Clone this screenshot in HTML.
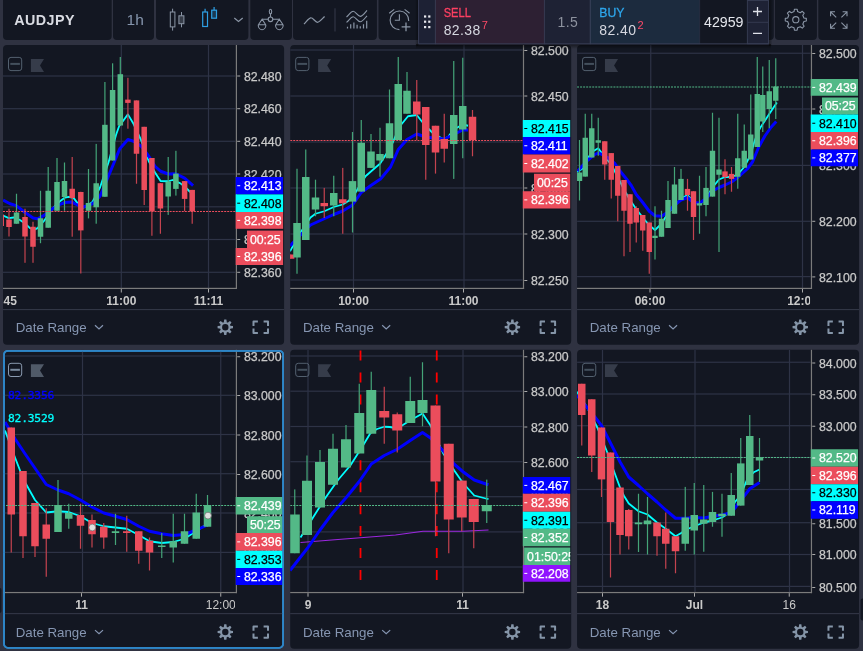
<!DOCTYPE html>
<html><head><meta charset="utf-8"><title>AUDJPY</title>
<style>
html,body{margin:0;padding:0;background:#2f3241;}
body{width:863px;height:651px;overflow:hidden;position:relative;font-family:"Liberation Sans", sans-serif;}
</style></head><body>
<svg width="863" height="651" viewBox="0 0 863 651" font-family='"Liberation Sans", sans-serif' style="position:absolute;left:0;top:0;display:block">
<defs>
<clipPath id="cp1"><rect x="3" y="45" width="233.4" height="243.4"/></clipPath>
<clipPath id="pp1"><rect x="3" y="45" width="232" height="299.8" rx="4"/></clipPath>
<clipPath id="ap1"><rect x="235.4" y="45" width="47.7" height="243.4"/></clipPath>
<clipPath id="cp2"><rect x="290.2" y="45" width="233.3" height="243.4"/></clipPath>
<clipPath id="pp2"><rect x="290.2" y="45" width="231.9" height="299.8" rx="4"/></clipPath>
<clipPath id="ap2"><rect x="522.5" y="45" width="47.7" height="243.4"/></clipPath>
<clipPath id="cp3"><rect x="577.06" y="45" width="234.4" height="243.4"/></clipPath>
<clipPath id="pp3"><rect x="577.06" y="45" width="233" height="299.8" rx="4"/></clipPath>
<clipPath id="ap3"><rect x="810.46" y="45" width="47.6" height="243.4"/></clipPath>
<clipPath id="cp4"><rect x="3" y="349.8" width="233.4" height="242.75"/></clipPath>
<clipPath id="pp4"><rect x="3" y="349.8" width="232" height="299" rx="4"/></clipPath>
<clipPath id="ap4"><rect x="235.4" y="349.8" width="47.7" height="242.75"/></clipPath>
<clipPath id="cp5"><rect x="290.2" y="349.8" width="233.3" height="242.75"/></clipPath>
<clipPath id="pp5"><rect x="290.2" y="349.8" width="231.9" height="299" rx="4"/></clipPath>
<clipPath id="ap5"><rect x="522.5" y="349.8" width="47.7" height="242.75"/></clipPath>
<clipPath id="cp6"><rect x="577.06" y="349.8" width="234.4" height="242.75"/></clipPath>
<clipPath id="pp6"><rect x="577.06" y="349.8" width="233" height="299" rx="4"/></clipPath>
<clipPath id="ap6"><rect x="810.46" y="349.8" width="47.6" height="242.75"/></clipPath>
</defs>
<rect x="3" y="45" width="281.1" height="299.8" rx="4" fill="#131722"/>
<g clip-path="url(#cp1)">
<rect x="3" y="75.4" width="232.4" height="1.2" fill="#2e3346"/>
<rect x="3" y="108.1" width="232.4" height="1.2" fill="#2e3346"/>
<rect x="3" y="140.7" width="232.4" height="1.2" fill="#2e3346"/>
<rect x="3" y="173.4" width="232.4" height="1.2" fill="#2e3346"/>
<rect x="3" y="206.2" width="232.4" height="1.2" fill="#2e3346"/>
<rect x="3" y="238.9" width="232.4" height="1.2" fill="#2e3346"/>
<rect x="3" y="271.7" width="232.4" height="1.2" fill="#2e3346"/>
<rect x="120.7" y="45" width="1.2" height="243.4" fill="#2e3346"/>
<rect x="207.9" y="45" width="1.2" height="243.4" fill="#2e3346"/>
<polyline points="3.1,215.6 8.75,218.1 13.75,217.5 20,220 25,223.5 30,228.1 35,229.4 37.5,228.1 43.75,221.25 52.5,208.75 60,201.25 65,197.5 68.75,196.9 73.75,198.1 77.5,203.1 83.75,207.5 92.5,201.9 100,187.5 103.75,176.25 108.5,162.5 116,135 119.1,126.25 127.9,114.4 133.5,123.75 141,140 148.75,161.25 155,172.5 160.6,181 168.25,181.25 172.5,180 180,183.1 184.6,186.5 189.4,191.25 192.25,193.75" fill="none" stroke="#00ffff" stroke-width="1.8" stroke-linejoin="round"/>
<polyline points="3.1,200 10,203.75 16.25,205.6 25,212.5 33.1,218.1 37.5,218.75 43.75,215.6 52.5,208.75 60,204.4 65,202.5 71.25,201.9 77.5,205 83.75,206.9 92.5,203.75 100,196.25 103.75,187.5 111,170 119.75,148.75 127.9,139.4 133.5,141.25 141.25,146.25 148.75,156.25 155,166.25 160.6,171.25 168.25,174 175.9,173.75 184.6,178.1 193.1,185.6" fill="none" stroke="#0000ff" stroke-width="3" stroke-linejoin="round"/>
<rect x="0.6" y="214.6" width="1.2" height="11.4" fill="#c4434f"/>
<rect x="-1.55" y="214.6" width="5.5" height="11.4" fill="#eb4d5c"/>
<rect x="8.4" y="208.75" width="1.2" height="27.75" fill="#c4434f"/>
<rect x="6.25" y="219.5" width="5.5" height="7.5" fill="#eb4d5c"/>
<rect x="15.9" y="193.75" width="1.2" height="30" fill="#44a478"/>
<rect x="13.75" y="212.5" width="5.5" height="11.25" fill="#53b987"/>
<rect x="24.4" y="208.75" width="1.2" height="54.05" fill="#c4434f"/>
<rect x="22.25" y="217" width="5.5" height="19.5" fill="#eb4d5c"/>
<rect x="32.4" y="221.75" width="1.2" height="41.05" fill="#c4434f"/>
<rect x="30.25" y="226.75" width="5.5" height="20" fill="#eb4d5c"/>
<rect x="39.9" y="190.75" width="1.2" height="52.45" fill="#44a478"/>
<rect x="37.75" y="218.25" width="5.5" height="18.5" fill="#53b987"/>
<rect x="47.6" y="167" width="1.2" height="60.75" fill="#44a478"/>
<rect x="45.45" y="190.75" width="5.5" height="37" fill="#53b987"/>
<rect x="56.4" y="158" width="1.2" height="52.75" fill="#44a478"/>
<rect x="54.25" y="182" width="5.5" height="28.75" fill="#53b987"/>
<rect x="63.9" y="162.5" width="1.2" height="48.25" fill="#44a478"/>
<rect x="61.75" y="181" width="5.5" height="16" fill="#53b987"/>
<rect x="71.6" y="157" width="1.2" height="79.7" fill="#c4434f"/>
<rect x="69.45" y="188.75" width="5.5" height="9.25" fill="#eb4d5c"/>
<rect x="80.2" y="191.75" width="1.2" height="81.75" fill="#c4434f"/>
<rect x="78.05" y="192" width="5.5" height="38.4" fill="#eb4d5c"/>
<rect x="87.9" y="169" width="1.2" height="49.4" fill="#44a478"/>
<rect x="85.75" y="203" width="5.5" height="7.75" fill="#53b987"/>
<rect x="95.6" y="143.9" width="1.2" height="79.8" fill="#44a478"/>
<rect x="93.45" y="183.25" width="5.5" height="24" fill="#53b987"/>
<rect x="104.3" y="82" width="1.2" height="114.75" fill="#44a478"/>
<rect x="102.15" y="124.8" width="5.5" height="71.95" fill="#53b987"/>
<rect x="112" y="63.3" width="1.2" height="97.2" fill="#44a478"/>
<rect x="109.85" y="90" width="5.5" height="70.5" fill="#53b987"/>
<rect x="119.7" y="57" width="1.2" height="68.5" fill="#44a478"/>
<rect x="117.55" y="74.2" width="5.5" height="51.3" fill="#53b987"/>
<rect x="127.3" y="77.8" width="1.2" height="50.9" fill="#c4434f"/>
<rect x="125.15" y="99.6" width="5.5" height="3.3" fill="#eb4d5c"/>
<rect x="135.9" y="100.4" width="1.2" height="83.35" fill="#c4434f"/>
<rect x="133.75" y="100.4" width="5.5" height="53.35" fill="#eb4d5c"/>
<rect x="143.6" y="126.8" width="1.2" height="78.2" fill="#c4434f"/>
<rect x="141.45" y="126.8" width="5.5" height="63.2" fill="#eb4d5c"/>
<rect x="151.3" y="158" width="1.2" height="77.75" fill="#c4434f"/>
<rect x="149.15" y="158" width="5.5" height="53.25" fill="#eb4d5c"/>
<rect x="159.8" y="183.2" width="1.2" height="50.55" fill="#c4434f"/>
<rect x="157.65" y="183.2" width="5.5" height="25.3" fill="#eb4d5c"/>
<rect x="167.6" y="157" width="1.2" height="57.9" fill="#44a478"/>
<rect x="165.45" y="181.6" width="5.5" height="14.9" fill="#53b987"/>
<rect x="175.3" y="150.8" width="1.2" height="44.8" fill="#44a478"/>
<rect x="173.15" y="173.6" width="5.5" height="15.3" fill="#53b987"/>
<rect x="184" y="181" width="1.2" height="30.25" fill="#c4434f"/>
<rect x="181.85" y="181.1" width="5.5" height="17.8" fill="#eb4d5c"/>
<rect x="191.6" y="189.9" width="1.2" height="33.85" fill="#c4434f"/>
<rect x="189.45" y="189.9" width="5.5" height="21.5" fill="#eb4d5c"/>
<line x1="3" y1="211.5" x2="236.4" y2="211.5" stroke="#eb4d5c" stroke-width="1.15" stroke-dasharray="2 1.03"/>
</g>
<rect x="235.8" y="45" width="1.2" height="244" fill="#7b7b7b"/>
<rect x="3" y="287.8" width="234" height="1.2" fill="#7b7b7b"/>
<g clip-path="url(#ap1)">
<rect x="237.2" y="75.5" width="3" height="1" fill="#aaa"/>
<text x="243.9" y="80.6" font-size="12.3" fill="#c9c9c9" stroke="#c9c9c9" stroke-width="0.25">82.480</text>
<rect x="237.2" y="108.2" width="3" height="1" fill="#aaa"/>
<text x="243.9" y="113.3" font-size="12.3" fill="#c9c9c9" stroke="#c9c9c9" stroke-width="0.25">82.460</text>
<rect x="237.2" y="140.8" width="3" height="1" fill="#aaa"/>
<text x="243.9" y="145.9" font-size="12.3" fill="#c9c9c9" stroke="#c9c9c9" stroke-width="0.25">82.440</text>
<rect x="237.2" y="173.5" width="3" height="1" fill="#aaa"/>
<text x="243.9" y="178.6" font-size="12.3" fill="#c9c9c9" stroke="#c9c9c9" stroke-width="0.25">82.420</text>
<rect x="237.2" y="206.3" width="3" height="1" fill="#aaa"/>
<text x="243.9" y="211.4" font-size="12.3" fill="#c9c9c9" stroke="#c9c9c9" stroke-width="0.25">82.400</text>
<rect x="237.2" y="239" width="3" height="1" fill="#aaa"/>
<text x="243.9" y="244.1" font-size="12.3" fill="#c9c9c9" stroke="#c9c9c9" stroke-width="0.25">82.380</text>
<rect x="237.2" y="271.8" width="3" height="1" fill="#aaa"/>
<text x="243.9" y="276.9" font-size="12.3" fill="#c9c9c9" stroke="#c9c9c9" stroke-width="0.25">82.360</text>
<rect x="235.5" y="177" width="48.6" height="17.4" fill="#0000ff"/>
<rect x="237.2" y="185.2" width="3" height="1" fill="#fff"/>
<text x="243.9" y="190" font-size="12.3" fill="#fff" stroke="#fff" stroke-width="0.25">82.413</text>
<rect x="235.5" y="194.4" width="48.6" height="17.6" fill="#00ffff"/>
<rect x="237.2" y="202.7" width="3" height="1" fill="#000"/>
<text x="243.9" y="207.5" font-size="12.3" fill="#000" stroke="#000" stroke-width="0.25">82.408</text>
<rect x="235.5" y="212" width="48.6" height="16.8" fill="#eb4d5c"/>
<rect x="237.2" y="219.9" width="3" height="1" fill="#fff"/>
<text x="243.9" y="224.7" font-size="12.3" fill="#fff" stroke="#fff" stroke-width="0.25">82.398</text>
<rect x="247" y="230.6" width="37.1" height="17.4" fill="#eb4d5c"/>
<text x="280.7" y="243.6" font-size="12.3" fill="#fff" stroke="#fff" stroke-width="0.25" text-anchor="end">00:25</text>
<rect x="235.5" y="248" width="48.6" height="17" fill="#eb4d5c"/>
<rect x="237.2" y="256" width="3" height="1" fill="#fff"/>
<text x="243.9" y="260.8" font-size="12.3" fill="#fff" stroke="#fff" stroke-width="0.25">82.396</text>
</g>
<g clip-path="url(#pp1)">
<text x="1.5" y="304.7" font-size="12" fill="#c9c9c9" text-anchor="middle" font-weight="bold">10:45</text>
<rect x="120.8" y="289" width="1" height="3.5" fill="#aaa"/>
<text x="121.3" y="304.7" font-size="12" fill="#c9c9c9" text-anchor="middle" font-weight="bold">11:00</text>
<rect x="208" y="289" width="1" height="3.5" fill="#aaa"/>
<text x="208.5" y="304.7" font-size="12" fill="#c9c9c9" text-anchor="middle" font-weight="bold">11:11</text>
</g>
<rect x="3" y="309.1" width="281.1" height="1" fill="#363a4a"/>
<text x="15.7" y="331.7" font-size="13.3" fill="#8696b2">Date Range</text>
<polyline points="95,325.3 99,329 103,325.3" fill="none" stroke="#8696b2" stroke-width="1.2"/>
<g transform="translate(225.3,327.2)" fill="#8595a8"><path d="M-1.55,-4.4L-1.1,-7.7H1.1L1.55,-4.4Z" transform="rotate(0)"/><path d="M-1.55,-4.4L-1.1,-7.7H1.1L1.55,-4.4Z" transform="rotate(45)"/><path d="M-1.55,-4.4L-1.1,-7.7H1.1L1.55,-4.4Z" transform="rotate(90)"/><path d="M-1.55,-4.4L-1.1,-7.7H1.1L1.55,-4.4Z" transform="rotate(135)"/><path d="M-1.55,-4.4L-1.1,-7.7H1.1L1.55,-4.4Z" transform="rotate(180)"/><path d="M-1.55,-4.4L-1.1,-7.7H1.1L1.55,-4.4Z" transform="rotate(225)"/><path d="M-1.55,-4.4L-1.1,-7.7H1.1L1.55,-4.4Z" transform="rotate(270)"/><path d="M-1.55,-4.4L-1.1,-7.7H1.1L1.55,-4.4Z" transform="rotate(315)"/><path fill-rule="evenodd" d="M0,-5.3A5.3,5.3 0 1 0 0,5.3A5.3,5.3 0 1 0 0,-5.3ZM0,-3.2A3.2,3.2 0 1 1 0,3.2A3.2,3.2 0 1 1 0,-3.2Z"/></g>
<path d="M253.5,326V321.6H257.9 M263.6,321.6H268V326 M268,328.6V333H263.6 M257.9,333H253.5V328.6" fill="none" stroke="#8595a8" stroke-width="2" stroke-linejoin="round" stroke-linecap="butt"/>
<rect x="8.5" y="57.4" width="13.2" height="13.2" rx="2.5" fill="none" stroke="#53606f" stroke-width="1"/>
<rect x="10.3" y="62.9" width="9.6" height="2" fill="#434f5c"/>
<path d="M30.9,59h13.1l-4,6.45l4,6.45h-13.1z" fill="#363c4a"/>
<rect x="290.2" y="45" width="281" height="299.8" rx="4" fill="#131722"/>
<g clip-path="url(#cp2)">
<rect x="290.2" y="49.4" width="232.3" height="1.2" fill="#2e3346"/>
<rect x="290.2" y="95.4" width="232.3" height="1.2" fill="#2e3346"/>
<rect x="290.2" y="141.4" width="232.3" height="1.2" fill="#2e3346"/>
<rect x="290.2" y="187.4" width="232.3" height="1.2" fill="#2e3346"/>
<rect x="290.2" y="233.4" width="232.3" height="1.2" fill="#2e3346"/>
<rect x="290.2" y="279.4" width="232.3" height="1.2" fill="#2e3346"/>
<rect x="352.9" y="45" width="1.2" height="243.4" fill="#2e3346"/>
<rect x="463.4" y="45" width="1.2" height="243.4" fill="#2e3346"/>
<polyline points="290,251.25 300.5,232.5 310.5,217.5 315.5,213.75 324.25,211.25 333.75,207 342.75,204.5 348,201.25 352.5,197.5 365.5,176.25 375.5,167.5 380,163.75 388,151.25 393,142 399.25,127 408,116.25 416.75,115 424.25,124.5 433,133.25 443,139 448,137 453.75,129.5 462.75,124.5 468,125.75" fill="none" stroke="#00ffff" stroke-width="1.8" stroke-linejoin="round"/>
<polyline points="290,246 300.5,235 310.5,225 324.25,218.75 333.75,214.5 342.75,211 352.5,205 361.25,192.5 370.5,185.75 380.5,179 390.5,167 398.25,149.5 407,139.5 416.75,134 425.75,137 435.5,138.25 444.25,139 453.75,134.5 462.75,130 468,130" fill="none" stroke="#0000ff" stroke-width="3" stroke-linejoin="round"/>
<rect x="290" y="254.5" width="1.2" height="4.25" fill="#c4434f"/>
<rect x="286.85" y="254.5" width="7.5" height="4.25" fill="#eb4d5c"/>
<rect x="296.4" y="168.75" width="1.2" height="105" fill="#44a478"/>
<rect x="293.25" y="223" width="7.5" height="34.5" fill="#53b987"/>
<rect x="305.15" y="149.5" width="1.2" height="90.5" fill="#44a478"/>
<rect x="302" y="177" width="7.5" height="63" fill="#53b987"/>
<rect x="314.9" y="179.7" width="1.2" height="36.55" fill="#44a478"/>
<rect x="311.75" y="197.5" width="7.5" height="12" fill="#53b987"/>
<rect x="323.65" y="187.9" width="1.2" height="30.1" fill="#c4434f"/>
<rect x="320.5" y="203" width="7.5" height="3.25" fill="#eb4d5c"/>
<rect x="333.15" y="175.75" width="1.2" height="40.5" fill="#44a478"/>
<rect x="330" y="193" width="7.5" height="12.5" fill="#53b987"/>
<rect x="342.15" y="167.9" width="1.2" height="65.85" fill="#c4434f"/>
<rect x="339" y="199.25" width="7.5" height="4" fill="#eb4d5c"/>
<rect x="351.9" y="132" width="1.2" height="100.5" fill="#44a478"/>
<rect x="348.75" y="181.1" width="7.5" height="20.5" fill="#53b987"/>
<rect x="360.65" y="120" width="1.2" height="71.6" fill="#44a478"/>
<rect x="357.5" y="142.75" width="7.5" height="48.85" fill="#53b987"/>
<rect x="370.4" y="134" width="1.2" height="33.9" fill="#44a478"/>
<rect x="367.25" y="151.5" width="7.5" height="16.4" fill="#53b987"/>
<rect x="379.4" y="127.75" width="1.2" height="49" fill="#44a478"/>
<rect x="376.25" y="154" width="7.5" height="6.5" fill="#53b987"/>
<rect x="388.9" y="89.5" width="1.2" height="68.75" fill="#44a478"/>
<rect x="385.75" y="123.25" width="7.5" height="35" fill="#53b987"/>
<rect x="397.65" y="57" width="1.2" height="83" fill="#44a478"/>
<rect x="394.5" y="84" width="7.5" height="56" fill="#53b987"/>
<rect x="406.4" y="72" width="1.2" height="41.75" fill="#44a478"/>
<rect x="403.25" y="90.75" width="7.5" height="23" fill="#53b987"/>
<rect x="416.15" y="80" width="1.2" height="60" fill="#c4434f"/>
<rect x="413" y="101.5" width="7.5" height="13" fill="#eb4d5c"/>
<rect x="425.15" y="107" width="1.2" height="72.75" fill="#c4434f"/>
<rect x="422" y="107" width="7.5" height="38" fill="#eb4d5c"/>
<rect x="434.9" y="125.75" width="1.2" height="47.85" fill="#c4434f"/>
<rect x="431.75" y="125.75" width="7.5" height="26.75" fill="#eb4d5c"/>
<rect x="443.65" y="113.75" width="1.2" height="48.75" fill="#c4434f"/>
<rect x="440.5" y="139" width="7.5" height="9.75" fill="#eb4d5c"/>
<rect x="453.15" y="61" width="1.2" height="117.9" fill="#44a478"/>
<rect x="450" y="115" width="7.5" height="29" fill="#53b987"/>
<rect x="462.15" y="57.75" width="1.2" height="100.5" fill="#44a478"/>
<rect x="459" y="106" width="7.5" height="23.5" fill="#53b987"/>
<rect x="471.9" y="110" width="1.2" height="46.25" fill="#c4434f"/>
<rect x="468.75" y="116.75" width="7.5" height="23.5" fill="#eb4d5c"/>
<line x1="290.2" y1="140.5" x2="523.5" y2="140.5" stroke="#eb4d5c" stroke-width="1.15" stroke-dasharray="2 1.03"/>
</g>
<rect x="522.9" y="45" width="1.2" height="244" fill="#7b7b7b"/>
<rect x="290.2" y="287.8" width="233.9" height="1.2" fill="#7b7b7b"/>
<g clip-path="url(#ap2)">
<rect x="524.3" y="50" width="3" height="1" fill="#aaa"/>
<text x="531" y="55.1" font-size="12.3" fill="#c9c9c9" stroke="#c9c9c9" stroke-width="0.25">82.500</text>
<rect x="524.3" y="95.5" width="3" height="1" fill="#aaa"/>
<text x="531" y="100.6" font-size="12.3" fill="#c9c9c9" stroke="#c9c9c9" stroke-width="0.25">82.450</text>
<rect x="524.3" y="141.5" width="3" height="1" fill="#aaa"/>
<text x="531" y="146.6" font-size="12.3" fill="#c9c9c9" stroke="#c9c9c9" stroke-width="0.25">82.400</text>
<rect x="524.3" y="187.5" width="3" height="1" fill="#aaa"/>
<text x="531" y="192.6" font-size="12.3" fill="#c9c9c9" stroke="#c9c9c9" stroke-width="0.25">82.350</text>
<rect x="524.3" y="233.5" width="3" height="1" fill="#aaa"/>
<text x="531" y="238.6" font-size="12.3" fill="#c9c9c9" stroke="#c9c9c9" stroke-width="0.25">82.300</text>
<rect x="524.3" y="280" width="3" height="1" fill="#aaa"/>
<text x="531" y="285.1" font-size="12.3" fill="#c9c9c9" stroke="#c9c9c9" stroke-width="0.25">82.250</text>
<rect x="522.6" y="120" width="48.6" height="17" fill="#00ffff"/>
<rect x="524.3" y="128" width="3" height="1" fill="#000"/>
<text x="531" y="132.8" font-size="12.3" fill="#000" stroke="#000" stroke-width="0.25">82.415</text>
<rect x="522.6" y="137" width="48.6" height="17.5" fill="#0000ff"/>
<rect x="524.3" y="145.25" width="3" height="1" fill="#fff"/>
<text x="531" y="150.05" font-size="12.3" fill="#fff" stroke="#fff" stroke-width="0.25">82.411</text>
<rect x="522.6" y="154.5" width="48.6" height="18" fill="#eb4d5c"/>
<rect x="524.3" y="163" width="3" height="1" fill="#fff"/>
<text x="531" y="167.8" font-size="12.3" fill="#fff" stroke="#fff" stroke-width="0.25">82.402</text>
<rect x="534" y="173.75" width="37.2" height="17.5" fill="#eb4d5c"/>
<text x="567.8" y="186.8" font-size="12.3" fill="#fff" stroke="#fff" stroke-width="0.25" text-anchor="end">00:25</text>
<rect x="522.6" y="191.25" width="48.6" height="17.25" fill="#eb4d5c"/>
<rect x="524.3" y="199.38" width="3" height="1" fill="#fff"/>
<text x="531" y="204.18" font-size="12.3" fill="#fff" stroke="#fff" stroke-width="0.25">82.396</text>
</g>
<g clip-path="url(#pp2)">
<rect x="353" y="289" width="1" height="3.5" fill="#aaa"/>
<text x="353.5" y="304.7" font-size="12" fill="#c9c9c9" text-anchor="middle" font-weight="bold">10:00</text>
<rect x="463" y="289" width="1" height="3.5" fill="#aaa"/>
<text x="463.5" y="304.7" font-size="12" fill="#c9c9c9" text-anchor="middle" font-weight="bold">11:00</text>
</g>
<rect x="290.2" y="309.1" width="281" height="1" fill="#363a4a"/>
<text x="302.9" y="331.7" font-size="13.3" fill="#8696b2">Date Range</text>
<polyline points="382.2,325.3 386.2,329 390.2,325.3" fill="none" stroke="#8696b2" stroke-width="1.2"/>
<g transform="translate(512.4,327.2)" fill="#8595a8"><path d="M-1.55,-4.4L-1.1,-7.7H1.1L1.55,-4.4Z" transform="rotate(0)"/><path d="M-1.55,-4.4L-1.1,-7.7H1.1L1.55,-4.4Z" transform="rotate(45)"/><path d="M-1.55,-4.4L-1.1,-7.7H1.1L1.55,-4.4Z" transform="rotate(90)"/><path d="M-1.55,-4.4L-1.1,-7.7H1.1L1.55,-4.4Z" transform="rotate(135)"/><path d="M-1.55,-4.4L-1.1,-7.7H1.1L1.55,-4.4Z" transform="rotate(180)"/><path d="M-1.55,-4.4L-1.1,-7.7H1.1L1.55,-4.4Z" transform="rotate(225)"/><path d="M-1.55,-4.4L-1.1,-7.7H1.1L1.55,-4.4Z" transform="rotate(270)"/><path d="M-1.55,-4.4L-1.1,-7.7H1.1L1.55,-4.4Z" transform="rotate(315)"/><path fill-rule="evenodd" d="M0,-5.3A5.3,5.3 0 1 0 0,5.3A5.3,5.3 0 1 0 0,-5.3ZM0,-3.2A3.2,3.2 0 1 1 0,3.2A3.2,3.2 0 1 1 0,-3.2Z"/></g>
<path d="M540.6,326V321.6H545 M550.7,321.6H555.1V326 M555.1,328.6V333H550.7 M545,333H540.6V328.6" fill="none" stroke="#8595a8" stroke-width="2" stroke-linejoin="round" stroke-linecap="butt"/>
<rect x="295.7" y="57.4" width="13.2" height="13.2" rx="2.5" fill="none" stroke="#53606f" stroke-width="1"/>
<rect x="297.5" y="62.9" width="9.6" height="2" fill="#434f5c"/>
<path d="M318.1,59h13.1l-4,6.45l4,6.45h-13.1z" fill="#363c4a"/>
<rect x="577.06" y="45" width="282" height="299.8" rx="4" fill="#131722"/>
<g clip-path="url(#cp3)">
<rect x="577.06" y="52.65" width="233.4" height="1.2" fill="#2e3346"/>
<rect x="577.06" y="108.4" width="233.4" height="1.2" fill="#2e3346"/>
<rect x="577.06" y="164.8" width="233.4" height="1.2" fill="#2e3346"/>
<rect x="577.06" y="220.7" width="233.4" height="1.2" fill="#2e3346"/>
<rect x="577.06" y="276" width="233.4" height="1.2" fill="#2e3346"/>
<rect x="650.15" y="45" width="1.2" height="243.4" fill="#2e3346"/>
<rect x="801.9" y="45" width="1.2" height="243.4" fill="#2e3346"/>
<polyline points="577,172 582,169 587,160 591.75,152 598.25,148.25 604.75,157 611.25,164.5 617.75,177 624,189.5 630,200 636,208.75 642.75,217.5 649,225 655,230 661.5,223.75 668,213 674.5,206 681,198.75 687.5,195 693.5,201.5 699.5,204.5 706,198.75 712.5,187.5 719,179.5 725,177 731.5,177 737.75,174.5 744.25,167 750.75,154.5 754,143 757.25,133.5 760.4,127.5 769.25,114.1 776.9,102.5" fill="none" stroke="#00ffff" stroke-width="1.8" stroke-linejoin="round"/>
<polyline points="577.5,171 581,167.5 585,163 588,160 593.75,155 598,153 601.9,154.4 607.5,157.5 615,163.75 621.25,172.5 626.25,178.75 631.25,185.5 636.25,194.5 642.75,202.5 649.25,211.25 655,215.75 661.5,216.25 668,212 674.5,205 681,200 687.5,197.5 693.5,202.5 699.5,203 706,198.75 712.5,191 719,187.5 725,185 731.5,182 737.75,177.5 747.5,168.75 752.5,162 758.75,147 765,135.75 771.25,127 776.25,121.5" fill="none" stroke="#0000ff" stroke-width="3" stroke-linejoin="round"/>
<rect x="578.9" y="140" width="1.2" height="60.5" fill="#44a478"/>
<rect x="576.8" y="172.5" width="5.4" height="8.5" fill="#53b987"/>
<rect x="584.65" y="113.75" width="1.2" height="62.85" fill="#44a478"/>
<rect x="582.55" y="137.75" width="5.4" height="38.85" fill="#53b987"/>
<rect x="591.15" y="113.75" width="1.2" height="43.75" fill="#44a478"/>
<rect x="589.05" y="128.25" width="5.4" height="29.25" fill="#53b987"/>
<rect x="597.65" y="117.75" width="1.2" height="38" fill="#44a478"/>
<rect x="595.55" y="140.25" width="5.4" height="2.5" fill="#53b987"/>
<rect x="604.15" y="141.25" width="1.2" height="38.5" fill="#c4434f"/>
<rect x="602.05" y="141.25" width="5.4" height="23.25" fill="#eb4d5c"/>
<rect x="610.65" y="153.1" width="1.2" height="45.4" fill="#c4434f"/>
<rect x="608.55" y="153.1" width="5.4" height="26.65" fill="#eb4d5c"/>
<rect x="617.15" y="166" width="1.2" height="55.25" fill="#c4434f"/>
<rect x="615.05" y="166" width="5.4" height="29.75" fill="#eb4d5c"/>
<rect x="623.4" y="180" width="1.2" height="76.25" fill="#c4434f"/>
<rect x="621.3" y="180" width="5.4" height="30.75" fill="#eb4d5c"/>
<rect x="629.4" y="194.25" width="1.2" height="57.75" fill="#c4434f"/>
<rect x="627.3" y="194.25" width="5.4" height="29.5" fill="#eb4d5c"/>
<rect x="635.65" y="206.25" width="1.2" height="36.25" fill="#c4434f"/>
<rect x="633.55" y="208" width="5.4" height="14.5" fill="#eb4d5c"/>
<rect x="642.15" y="215" width="1.2" height="35.75" fill="#c4434f"/>
<rect x="640.05" y="215" width="5.4" height="15.5" fill="#eb4d5c"/>
<rect x="648.65" y="222.5" width="1.2" height="51.25" fill="#c4434f"/>
<rect x="646.55" y="222.5" width="5.4" height="29.5" fill="#eb4d5c"/>
<rect x="654.4" y="206.25" width="1.2" height="53.25" fill="#44a478"/>
<rect x="652.3" y="235.75" width="5.4" height="2.25" fill="#53b987"/>
<rect x="660.9" y="210.75" width="1.2" height="26" fill="#44a478"/>
<rect x="658.8" y="218.75" width="5.4" height="18" fill="#53b987"/>
<rect x="667.4" y="181" width="1.2" height="47" fill="#44a478"/>
<rect x="665.3" y="200" width="5.4" height="28" fill="#53b987"/>
<rect x="673.9" y="167" width="1.2" height="46.75" fill="#44a478"/>
<rect x="671.8" y="184.5" width="5.4" height="29.25" fill="#53b987"/>
<rect x="680.4" y="168.9" width="1.2" height="31.1" fill="#44a478"/>
<rect x="678.3" y="178.9" width="5.4" height="21.1" fill="#53b987"/>
<rect x="686.9" y="178.9" width="1.2" height="31.85" fill="#c4434f"/>
<rect x="684.8" y="188.9" width="5.4" height="6.1" fill="#eb4d5c"/>
<rect x="692.9" y="191.25" width="1.2" height="48.75" fill="#c4434f"/>
<rect x="690.8" y="191.25" width="5.4" height="25.75" fill="#eb4d5c"/>
<rect x="698.9" y="175.75" width="1.2" height="58" fill="#44a478"/>
<rect x="696.8" y="203.25" width="5.4" height="2.25" fill="#53b987"/>
<rect x="705.4" y="167" width="1.2" height="49.25" fill="#44a478"/>
<rect x="703.3" y="187.9" width="5.4" height="17.1" fill="#53b987"/>
<rect x="711.9" y="112.75" width="1.2" height="83.85" fill="#44a478"/>
<rect x="709.8" y="150.75" width="5.4" height="45.85" fill="#53b987"/>
<rect x="718.4" y="117.75" width="1.2" height="134.25" fill="#44a478"/>
<rect x="716.3" y="169.5" width="5.4" height="5.25" fill="#53b987"/>
<rect x="724.4" y="159.25" width="1.2" height="35" fill="#c4434f"/>
<rect x="722.3" y="171.4" width="5.4" height="5.6" fill="#eb4d5c"/>
<rect x="730.9" y="167" width="1.2" height="24.75" fill="#c4434f"/>
<rect x="728.8" y="173.9" width="5.4" height="5" fill="#eb4d5c"/>
<rect x="737.15" y="113.75" width="1.2" height="75" fill="#44a478"/>
<rect x="735.05" y="158.25" width="5.4" height="18.5" fill="#53b987"/>
<rect x="743.65" y="124.5" width="1.2" height="43.25" fill="#44a478"/>
<rect x="741.55" y="150.75" width="5.4" height="17" fill="#53b987"/>
<rect x="750.15" y="94.5" width="1.2" height="65" fill="#44a478"/>
<rect x="748.05" y="134.5" width="5.4" height="25" fill="#53b987"/>
<rect x="756.65" y="57" width="1.2" height="90" fill="#44a478"/>
<rect x="754.55" y="94" width="5.4" height="53" fill="#53b987"/>
<rect x="762.15" y="66.5" width="1.2" height="65.5" fill="#44a478"/>
<rect x="760.05" y="95" width="5.4" height="26.5" fill="#53b987"/>
<rect x="768.65" y="60" width="1.2" height="68.25" fill="#44a478"/>
<rect x="766.55" y="91.25" width="5.4" height="17.75" fill="#53b987"/>
<rect x="775.15" y="58.25" width="1.2" height="60.75" fill="#44a478"/>
<rect x="773.05" y="86.5" width="5.4" height="14.25" fill="#53b987"/>
<line x1="577.06" y1="87" x2="811.46" y2="87" stroke="#53b987" stroke-width="1.15" stroke-dasharray="2 1.03"/>
</g>
<rect x="810.86" y="45" width="1.2" height="244" fill="#7b7b7b"/>
<rect x="577.06" y="287.8" width="235" height="1.2" fill="#7b7b7b"/>
<g clip-path="url(#ap3)">
<rect x="812.26" y="53" width="3" height="1" fill="#aaa"/>
<text x="818.96" y="58.1" font-size="12.3" fill="#c9c9c9" stroke="#c9c9c9" stroke-width="0.25">82.500</text>
<rect x="812.26" y="108.5" width="3" height="1" fill="#aaa"/>
<text x="818.96" y="113.6" font-size="12.3" fill="#c9c9c9" stroke="#c9c9c9" stroke-width="0.25">82.400</text>
<rect x="812.26" y="164.9" width="3" height="1" fill="#aaa"/>
<text x="818.96" y="170" font-size="12.3" fill="#c9c9c9" stroke="#c9c9c9" stroke-width="0.25">82.300</text>
<rect x="812.26" y="220.8" width="3" height="1" fill="#aaa"/>
<text x="818.96" y="225.9" font-size="12.3" fill="#c9c9c9" stroke="#c9c9c9" stroke-width="0.25">82.200</text>
<rect x="812.26" y="276.4" width="3" height="1" fill="#aaa"/>
<text x="818.96" y="281.5" font-size="12.3" fill="#c9c9c9" stroke="#c9c9c9" stroke-width="0.25">82.100</text>
<rect x="810.56" y="79" width="48.5" height="16.75" fill="#53b987"/>
<rect x="812.26" y="86.88" width="3" height="1" fill="#fff"/>
<text x="818.96" y="91.67" font-size="12.3" fill="#fff" stroke="#fff" stroke-width="0.25">82.439</text>
<rect x="822" y="97.5" width="37.06" height="17" fill="#53b987"/>
<text x="855.66" y="110.3" font-size="12.3" fill="#fff" stroke="#fff" stroke-width="0.25" text-anchor="end">05:25</text>
<rect x="810.56" y="114.5" width="48.5" height="17.5" fill="#00ffff"/>
<rect x="812.26" y="122.75" width="3" height="1" fill="#000"/>
<text x="818.96" y="127.55" font-size="12.3" fill="#000" stroke="#000" stroke-width="0.25">82.410</text>
<rect x="810.56" y="132" width="48.5" height="17.5" fill="#eb4d5c"/>
<rect x="812.26" y="140.25" width="3" height="1" fill="#fff"/>
<text x="818.96" y="145.05" font-size="12.3" fill="#fff" stroke="#fff" stroke-width="0.25">82.396</text>
<rect x="810.56" y="149.5" width="48.5" height="16.75" fill="#0000ff"/>
<rect x="812.26" y="157.38" width="3" height="1" fill="#fff"/>
<text x="818.96" y="162.18" font-size="12.3" fill="#fff" stroke="#fff" stroke-width="0.25">82.377</text>
</g>
<g clip-path="url(#pp3)">
<rect x="649.5" y="289" width="1" height="3.5" fill="#aaa"/>
<text x="650" y="304.7" font-size="12" fill="#c9c9c9" text-anchor="middle" font-weight="bold">06:00</text>
<rect x="802" y="289" width="1" height="3.5" fill="#aaa"/>
<text x="802.5" y="304.7" font-size="12" fill="#c9c9c9" text-anchor="middle" font-weight="bold">12:00</text>
</g>
<rect x="577.06" y="309.1" width="282" height="1" fill="#363a4a"/>
<text x="589.76" y="331.7" font-size="13.3" fill="#8696b2">Date Range</text>
<polyline points="669.06,325.3 673.06,329 677.06,325.3" fill="none" stroke="#8696b2" stroke-width="1.2"/>
<g transform="translate(800.26,327.2)" fill="#8595a8"><path d="M-1.55,-4.4L-1.1,-7.7H1.1L1.55,-4.4Z" transform="rotate(0)"/><path d="M-1.55,-4.4L-1.1,-7.7H1.1L1.55,-4.4Z" transform="rotate(45)"/><path d="M-1.55,-4.4L-1.1,-7.7H1.1L1.55,-4.4Z" transform="rotate(90)"/><path d="M-1.55,-4.4L-1.1,-7.7H1.1L1.55,-4.4Z" transform="rotate(135)"/><path d="M-1.55,-4.4L-1.1,-7.7H1.1L1.55,-4.4Z" transform="rotate(180)"/><path d="M-1.55,-4.4L-1.1,-7.7H1.1L1.55,-4.4Z" transform="rotate(225)"/><path d="M-1.55,-4.4L-1.1,-7.7H1.1L1.55,-4.4Z" transform="rotate(270)"/><path d="M-1.55,-4.4L-1.1,-7.7H1.1L1.55,-4.4Z" transform="rotate(315)"/><path fill-rule="evenodd" d="M0,-5.3A5.3,5.3 0 1 0 0,5.3A5.3,5.3 0 1 0 0,-5.3ZM0,-3.2A3.2,3.2 0 1 1 0,3.2A3.2,3.2 0 1 1 0,-3.2Z"/></g>
<path d="M828.46,326V321.6H832.86 M838.56,321.6H842.96V326 M842.96,328.6V333H838.56 M832.86,333H828.46V328.6" fill="none" stroke="#8595a8" stroke-width="2" stroke-linejoin="round" stroke-linecap="butt"/>
<rect x="582.56" y="57.4" width="13.2" height="13.2" rx="2.5" fill="none" stroke="#53606f" stroke-width="1"/>
<rect x="584.36" y="62.9" width="9.6" height="2" fill="#434f5c"/>
<path d="M604.96,59h13.1l-4,6.45l4,6.45h-13.1z" fill="#363c4a"/>
<rect x="4" y="350.8" width="279.1" height="297" rx="4" fill="#131722" stroke="#2e86c8" stroke-width="1.8"/>
<g clip-path="url(#cp4)">
<rect x="3" y="355.4" width="232.4" height="1.2" fill="#2e3346"/>
<rect x="3" y="394.7" width="232.4" height="1.2" fill="#2e3346"/>
<rect x="3" y="433.9" width="232.4" height="1.2" fill="#2e3346"/>
<rect x="3" y="473.1" width="232.4" height="1.2" fill="#2e3346"/>
<rect x="3" y="512.4" width="232.4" height="1.2" fill="#2e3346"/>
<rect x="3" y="551.8" width="232.4" height="1.2" fill="#2e3346"/>
<rect x="81.9" y="349.8" width="1.2" height="242.75" fill="#2e3346"/>
<rect x="220.15" y="349.8" width="1.2" height="242.75" fill="#2e3346"/>
<polyline points="5,430.5 15,457.5 23.75,480 35,500 46.25,512.5 58,511.25 68.75,512 80.5,516.25 92,523 103.75,526.25 115.5,527.5 126.75,528.75 138.75,535 149.5,541.25 161.75,543 173.25,542 184.5,538.75 196.25,531 207.5,523.75" fill="none" stroke="#00ffff" stroke-width="1.8" stroke-linejoin="round"/>
<polyline points="5,422 15,438.75 25,453.75 36.25,470 46.25,484.5 58,490 68.75,493.75 80.5,500 92,507 103.75,513 115.5,516.25 126.75,519.5 138.75,526.25 149.5,531.25 161.75,533.75 173.25,535.5 184.5,534.5 196.25,530 207.5,525" fill="none" stroke="#0000ff" stroke-width="3" stroke-linejoin="round"/>
<rect x="10.65" y="427.5" width="1.2" height="125" fill="#c4434f"/>
<rect x="7.5" y="427.5" width="7.5" height="87" fill="#eb4d5c"/>
<rect x="22.4" y="471" width="1.2" height="87" fill="#c4434f"/>
<rect x="19.25" y="471" width="7.5" height="65.25" fill="#eb4d5c"/>
<rect x="34.4" y="503" width="1.2" height="54" fill="#c4434f"/>
<rect x="31.25" y="503" width="7.5" height="43.25" fill="#eb4d5c"/>
<rect x="45.65" y="508.25" width="1.2" height="68.5" fill="#c4434f"/>
<rect x="42.5" y="524.5" width="7.5" height="14.25" fill="#eb4d5c"/>
<rect x="57.4" y="480" width="1.2" height="52" fill="#44a478"/>
<rect x="54.25" y="505" width="7.5" height="27" fill="#53b987"/>
<rect x="68.15" y="503.75" width="1.2" height="25" fill="#44a478"/>
<rect x="65" y="513" width="7.5" height="5.75" fill="#53b987"/>
<rect x="79.9" y="503.75" width="1.2" height="45" fill="#c4434f"/>
<rect x="76.75" y="515" width="7.5" height="10.75" fill="#eb4d5c"/>
<rect x="91.4" y="514.5" width="1.2" height="33" fill="#c4434f"/>
<rect x="88.25" y="520" width="7.5" height="14.25" fill="#eb4d5c"/>
<rect x="103.15" y="523" width="1.2" height="25.75" fill="#c4434f"/>
<rect x="100" y="526.75" width="7.5" height="10.75" fill="#eb4d5c"/>
<rect x="114.9" y="513.75" width="1.2" height="31.25" fill="#44a478"/>
<rect x="111.75" y="531.25" width="7.5" height="1.75" fill="#53b987"/>
<rect x="126.15" y="515.75" width="1.2" height="36" fill="#c4434f"/>
<rect x="123" y="531.25" width="7.5" height="1.75" fill="#eb4d5c"/>
<rect x="138.15" y="531.25" width="1.2" height="32.5" fill="#c4434f"/>
<rect x="135" y="531.25" width="7.5" height="19.5" fill="#eb4d5c"/>
<rect x="148.9" y="537.5" width="1.2" height="33" fill="#c4434f"/>
<rect x="145.75" y="540.75" width="7.5" height="11.75" fill="#eb4d5c"/>
<rect x="161.15" y="533" width="1.2" height="25" fill="#44a478"/>
<rect x="158" y="545.5" width="7.5" height="1.5" fill="#53b987"/>
<rect x="172.65" y="513.75" width="1.2" height="48.75" fill="#44a478"/>
<rect x="169.5" y="541.25" width="7.5" height="6.25" fill="#53b987"/>
<rect x="183.9" y="513.75" width="1.2" height="30" fill="#44a478"/>
<rect x="180.75" y="531.25" width="7.5" height="12.5" fill="#53b987"/>
<rect x="195.65" y="493.75" width="1.2" height="45" fill="#44a478"/>
<rect x="192.5" y="512.5" width="7.5" height="26.25" fill="#53b987"/>
<rect x="206.9" y="495" width="1.2" height="31.75" fill="#44a478"/>
<rect x="203.75" y="505" width="7.5" height="21.75" fill="#53b987"/>
<line x1="3" y1="505.5" x2="236.4" y2="505.5" stroke="#53b987" stroke-width="1.15" stroke-dasharray="2 1.03"/>
<circle cx="92.3" cy="527.5" r="3.4" fill="#e0e0e0" stroke="#5a5a5a" stroke-width="0.6"/>
<circle cx="208" cy="515.6" r="3.4" fill="#e0e0e0" stroke="#5a5a5a" stroke-width="0.6"/>
</g>
<rect x="235.8" y="349.8" width="1.2" height="243.35" fill="#7b7b7b"/>
<rect x="3" y="591.95" width="234" height="1.2" fill="#7b7b7b"/>
<g clip-path="url(#ap4)">
<rect x="237.2" y="356.25" width="3" height="1" fill="#aaa"/>
<text x="243.9" y="361.35" font-size="12.3" fill="#c9c9c9" stroke="#c9c9c9" stroke-width="0.25">83.200</text>
<rect x="237.2" y="395" width="3" height="1" fill="#aaa"/>
<text x="243.9" y="400.1" font-size="12.3" fill="#c9c9c9" stroke="#c9c9c9" stroke-width="0.25">83.000</text>
<rect x="237.2" y="434.5" width="3" height="1" fill="#aaa"/>
<text x="243.9" y="439.6" font-size="12.3" fill="#c9c9c9" stroke="#c9c9c9" stroke-width="0.25">82.800</text>
<rect x="237.2" y="474" width="3" height="1" fill="#aaa"/>
<text x="243.9" y="479.1" font-size="12.3" fill="#c9c9c9" stroke="#c9c9c9" stroke-width="0.25">82.600</text>
<rect x="237.2" y="512.5" width="3" height="1" fill="#aaa"/>
<text x="243.9" y="517.6" font-size="12.3" fill="#c9c9c9" stroke="#c9c9c9" stroke-width="0.25">82.400</text>
<rect x="237.2" y="551.9" width="3" height="1" fill="#aaa"/>
<text x="243.9" y="557" font-size="12.3" fill="#c9c9c9" stroke="#c9c9c9" stroke-width="0.25">82.200</text>
<rect x="235.5" y="497" width="48.6" height="17.5" fill="#53b987"/>
<rect x="237.2" y="505.25" width="3" height="1" fill="#fff"/>
<text x="243.9" y="510.05" font-size="12.3" fill="#fff" stroke="#fff" stroke-width="0.25">82.439</text>
<rect x="247" y="516.25" width="37.1" height="16.75" fill="#53b987"/>
<text x="280.7" y="528.92" font-size="12.3" fill="#fff" stroke="#fff" stroke-width="0.25" text-anchor="end">50:25</text>
<rect x="235.5" y="533" width="48.6" height="17.75" fill="#eb4d5c"/>
<rect x="237.2" y="541.38" width="3" height="1" fill="#fff"/>
<text x="243.9" y="546.17" font-size="12.3" fill="#fff" stroke="#fff" stroke-width="0.25">82.396</text>
<rect x="235.5" y="550.75" width="48.6" height="17.25" fill="#00ffff"/>
<rect x="237.2" y="558.88" width="3" height="1" fill="#000"/>
<text x="243.9" y="563.67" font-size="12.3" fill="#000" stroke="#000" stroke-width="0.25">82.353</text>
<rect x="235.5" y="568" width="48.6" height="17" fill="#0000ff"/>
<rect x="237.2" y="576" width="3" height="1" fill="#fff"/>
<text x="243.9" y="580.8" font-size="12.3" fill="#fff" stroke="#fff" stroke-width="0.25">82.336</text>
</g>
<g clip-path="url(#pp4)">
<rect x="81" y="593.15" width="1" height="3.5" fill="#aaa"/>
<text x="81.5" y="608.5" font-size="12" fill="#c9c9c9" text-anchor="middle" font-weight="bold">11</text>
<rect x="220.25" y="593.15" width="1" height="3.5" fill="#aaa"/>
<text x="220.75" y="608.5" font-size="12" fill="#c9c9c9" text-anchor="middle">12:00</text>
</g>
<rect x="3" y="613.15" width="281.1" height="1" fill="#363a4a"/>
<rect x="4" y="350.8" width="279.1" height="297" rx="4" fill="none" stroke="#2e86c8" stroke-width="1.8"/>
<text x="15.7" y="636.5" font-size="13.3" fill="#8696b2">Date Range</text>
<polyline points="95,630.1 99,633.8 103,630.1" fill="none" stroke="#8696b2" stroke-width="1.2"/>
<g transform="translate(225.3,632)" fill="#8595a8"><path d="M-1.55,-4.4L-1.1,-7.7H1.1L1.55,-4.4Z" transform="rotate(0)"/><path d="M-1.55,-4.4L-1.1,-7.7H1.1L1.55,-4.4Z" transform="rotate(45)"/><path d="M-1.55,-4.4L-1.1,-7.7H1.1L1.55,-4.4Z" transform="rotate(90)"/><path d="M-1.55,-4.4L-1.1,-7.7H1.1L1.55,-4.4Z" transform="rotate(135)"/><path d="M-1.55,-4.4L-1.1,-7.7H1.1L1.55,-4.4Z" transform="rotate(180)"/><path d="M-1.55,-4.4L-1.1,-7.7H1.1L1.55,-4.4Z" transform="rotate(225)"/><path d="M-1.55,-4.4L-1.1,-7.7H1.1L1.55,-4.4Z" transform="rotate(270)"/><path d="M-1.55,-4.4L-1.1,-7.7H1.1L1.55,-4.4Z" transform="rotate(315)"/><path fill-rule="evenodd" d="M0,-5.3A5.3,5.3 0 1 0 0,5.3A5.3,5.3 0 1 0 0,-5.3ZM0,-3.2A3.2,3.2 0 1 1 0,3.2A3.2,3.2 0 1 1 0,-3.2Z"/></g>
<path d="M253.5,630.8V626.4H257.9 M263.6,626.4H268V630.8 M268,633.4V637.8H263.6 M257.9,637.8H253.5V633.4" fill="none" stroke="#8595a8" stroke-width="2" stroke-linejoin="round" stroke-linecap="butt"/>
<rect x="8.5" y="363.3" width="13.2" height="13.2" rx="2.5" fill="none" stroke="#8a9ab0" stroke-width="1"/>
<rect x="10.3" y="368.8" width="9.6" height="2" fill="#7b8b9e"/>
<path d="M30.9,364.13h13.1l-4,6.45l4,6.45h-13.1z" fill="#505a68"/>
<text x="8" y="398.7" font-size="11.3" font-family='"DejaVu Sans Mono","Liberation Mono",monospace' fill="#0000ff" stroke="#0000ff" stroke-width="0.4" textLength="46.3">82.3356</text>
<text x="8" y="421.7" font-size="11.3" font-family='"DejaVu Sans Mono","Liberation Mono",monospace' fill="#00ffff" stroke="#00ffff" stroke-width="0.3" textLength="46.3">82.3529</text>
<rect x="290.2" y="349.8" width="281" height="299" rx="4" fill="#131722"/>
<g clip-path="url(#cp5)">
<rect x="290.2" y="355.4" width="232.3" height="1.2" fill="#2e3346"/>
<rect x="290.2" y="390.6" width="232.3" height="1.2" fill="#2e3346"/>
<rect x="290.2" y="425.9" width="232.3" height="1.2" fill="#2e3346"/>
<rect x="290.2" y="461.1" width="232.3" height="1.2" fill="#2e3346"/>
<rect x="290.2" y="496.1" width="232.3" height="1.2" fill="#2e3346"/>
<rect x="290.2" y="531.3" width="232.3" height="1.2" fill="#2e3346"/>
<rect x="290.2" y="566.4" width="232.3" height="1.2" fill="#2e3346"/>
<rect x="307.4" y="349.8" width="1.2" height="242.75" fill="#2e3346"/>
<rect x="462.4" y="349.8" width="1.2" height="242.75" fill="#2e3346"/>
<line x1="360.5" y1="350.5" x2="360.5" y2="592" stroke="#ff0000" stroke-width="1.8" stroke-dasharray="10 11.95"/>
<line x1="436.75" y1="350.5" x2="436.75" y2="592" stroke="#ff0000" stroke-width="1.8" stroke-dasharray="10 11.95"/>
<polyline points="300.5,542.5 338,539.5 395.5,535 423,531.25 463,531.25 488.5,530" fill="none" stroke="#9c27e0" stroke-width="1.1"/>
<polyline points="300.5,537.5 313,517.5 325.5,497.75 338,480 350.5,465.25 363,445.5 370.5,433 377,429 384.25,426.75 390,427 397.25,428.5 410,420.5 422.5,413.5 430.5,425.5 443,453 454.25,470.5 463,483 474.25,495.5 486.75,498.75 488.5,499.2" fill="none" stroke="#00ffff" stroke-width="1.8" stroke-linejoin="round"/>
<polyline points="290,570.5 308,547.5 320,530 333,512.5 346,497.75 359.25,481.5 371.25,464 384.25,455.5 397.25,449.25 410.25,440.5 422.5,432.5 430.5,438 443,450.5 454.25,464.25 463,471.75 474.25,480 486.75,484.25 488.5,484.8" fill="none" stroke="#0000ff" stroke-width="3" stroke-linejoin="round"/>
<rect x="294.15" y="489.4" width="1.2" height="63.85" fill="#44a478"/>
<rect x="289.75" y="514.5" width="10" height="38.75" fill="#53b987"/>
<rect x="306.4" y="455.5" width="1.2" height="79.5" fill="#44a478"/>
<rect x="302" y="480.75" width="10" height="54.25" fill="#53b987"/>
<rect x="319.4" y="450" width="1.2" height="57.5" fill="#44a478"/>
<rect x="315" y="462" width="10" height="45.5" fill="#53b987"/>
<rect x="332.4" y="433.75" width="1.2" height="51" fill="#44a478"/>
<rect x="328" y="448.75" width="10" height="36" fill="#53b987"/>
<rect x="345.4" y="425" width="1.2" height="42.5" fill="#44a478"/>
<rect x="341" y="439.25" width="10" height="28.25" fill="#53b987"/>
<rect x="358.65" y="383.75" width="1.2" height="69.75" fill="#44a478"/>
<rect x="354.25" y="413" width="10" height="40.5" fill="#53b987"/>
<rect x="370.65" y="371.75" width="1.2" height="62" fill="#44a478"/>
<rect x="366.25" y="390" width="10" height="43.75" fill="#53b987"/>
<rect x="383.65" y="386.75" width="1.2" height="57" fill="#c4434f"/>
<rect x="379.25" y="411" width="10" height="6.5" fill="#eb4d5c"/>
<rect x="396.65" y="412.5" width="1.2" height="40" fill="#c4434f"/>
<rect x="392.25" y="414.25" width="10" height="16.25" fill="#eb4d5c"/>
<rect x="409.65" y="376.75" width="1.2" height="46.25" fill="#44a478"/>
<rect x="405.25" y="401" width="10" height="22" fill="#53b987"/>
<rect x="421.9" y="362.25" width="1.2" height="64" fill="#44a478"/>
<rect x="417.5" y="400" width="10" height="13" fill="#53b987"/>
<rect x="434.9" y="405.5" width="1.2" height="130.75" fill="#c4434f"/>
<rect x="430.5" y="405.5" width="10" height="76" fill="#eb4d5c"/>
<rect x="448.15" y="443.75" width="1.2" height="109.5" fill="#c4434f"/>
<rect x="443.75" y="443.75" width="10" height="75.75" fill="#eb4d5c"/>
<rect x="461.15" y="480.6" width="1.2" height="50.65" fill="#c4434f"/>
<rect x="456.75" y="480.6" width="10" height="36.9" fill="#eb4d5c"/>
<rect x="473.15" y="498.9" width="1.2" height="49.35" fill="#c4434f"/>
<rect x="468.75" y="499" width="10" height="23" fill="#eb4d5c"/>
<rect x="486.15" y="479.6" width="1.2" height="43.4" fill="#44a478"/>
<rect x="481.75" y="505" width="10" height="6.25" fill="#53b987"/>
<line x1="290.2" y1="505.5" x2="523.5" y2="505.5" stroke="#53b987" stroke-width="1.15" stroke-dasharray="2 1.03"/>
</g>
<rect x="522.9" y="349.8" width="1.2" height="243.35" fill="#7b7b7b"/>
<rect x="290.2" y="591.95" width="233.9" height="1.2" fill="#7b7b7b"/>
<g clip-path="url(#ap5)">
<rect x="524.3" y="356.25" width="3" height="1" fill="#aaa"/>
<text x="531" y="361.35" font-size="12.3" fill="#c9c9c9" stroke="#c9c9c9" stroke-width="0.25">83.200</text>
<rect x="524.3" y="391" width="3" height="1" fill="#aaa"/>
<text x="531" y="396.1" font-size="12.3" fill="#c9c9c9" stroke="#c9c9c9" stroke-width="0.25">83.000</text>
<rect x="524.3" y="426.5" width="3" height="1" fill="#aaa"/>
<text x="531" y="431.6" font-size="12.3" fill="#c9c9c9" stroke="#c9c9c9" stroke-width="0.25">82.800</text>
<rect x="524.3" y="462" width="3" height="1" fill="#aaa"/>
<text x="531" y="467.1" font-size="12.3" fill="#c9c9c9" stroke="#c9c9c9" stroke-width="0.25">82.600</text>
<rect x="524.3" y="496.2" width="3" height="1" fill="#aaa"/>
<text x="531" y="501.3" font-size="12.3" fill="#c9c9c9" stroke="#c9c9c9" stroke-width="0.25">82.400</text>
<rect x="524.3" y="531.4" width="3" height="1" fill="#aaa"/>
<text x="531" y="536.5" font-size="12.3" fill="#c9c9c9" stroke="#c9c9c9" stroke-width="0.25">82.200</text>
<rect x="524.3" y="566.5" width="3" height="1" fill="#aaa"/>
<text x="531" y="571.6" font-size="12.3" fill="#c9c9c9" stroke="#c9c9c9" stroke-width="0.25">82.000</text>
<rect x="522.6" y="477" width="48.6" height="16.75" fill="#0000ff"/>
<rect x="524.3" y="484.88" width="3" height="1" fill="#fff"/>
<text x="531" y="489.68" font-size="12.3" fill="#fff" stroke="#fff" stroke-width="0.25">82.467</text>
<rect x="522.6" y="493.75" width="48.6" height="18" fill="#eb4d5c"/>
<rect x="524.3" y="502.25" width="3" height="1" fill="#fff"/>
<text x="531" y="507.05" font-size="12.3" fill="#fff" stroke="#fff" stroke-width="0.25">82.396</text>
<rect x="522.6" y="511.75" width="48.6" height="17" fill="#00ffff"/>
<rect x="524.3" y="519.75" width="3" height="1" fill="#000"/>
<text x="531" y="524.55" font-size="12.3" fill="#000" stroke="#000" stroke-width="0.25">82.391</text>
<rect x="522.6" y="528.75" width="48.6" height="17.5" fill="#53b987"/>
<rect x="524.3" y="537" width="3" height="1" fill="#fff"/>
<text x="531" y="541.8" font-size="12.3" fill="#fff" stroke="#fff" stroke-width="0.25">82.352</text>
<rect x="524.1" y="547.5" width="47.1" height="17.5" fill="#53b987"/>
<text x="527.1" y="560.55" font-size="12.3" fill="#fff" stroke="#fff" stroke-width="0.25">01:50:25</text>
<rect x="522.6" y="565" width="48.6" height="16.75" fill="#9013fe"/>
<rect x="524.3" y="572.88" width="3" height="1" fill="#fff"/>
<text x="531" y="577.67" font-size="12.3" fill="#fff" stroke="#fff" stroke-width="0.25">82.208</text>
</g>
<g clip-path="url(#pp5)">
<rect x="307.5" y="593.15" width="1" height="3.5" fill="#aaa"/>
<text x="308" y="608.5" font-size="12" fill="#c9c9c9" text-anchor="middle" font-weight="bold">9</text>
<rect x="462" y="593.15" width="1" height="3.5" fill="#aaa"/>
<text x="462.5" y="608.5" font-size="12" fill="#c9c9c9" text-anchor="middle" font-weight="bold">11</text>
</g>
<rect x="290.2" y="613.15" width="281" height="1" fill="#363a4a"/>
<text x="302.9" y="636.5" font-size="13.3" fill="#8696b2">Date Range</text>
<polyline points="382.2,630.1 386.2,633.8 390.2,630.1" fill="none" stroke="#8696b2" stroke-width="1.2"/>
<g transform="translate(512.4,632)" fill="#8595a8"><path d="M-1.55,-4.4L-1.1,-7.7H1.1L1.55,-4.4Z" transform="rotate(0)"/><path d="M-1.55,-4.4L-1.1,-7.7H1.1L1.55,-4.4Z" transform="rotate(45)"/><path d="M-1.55,-4.4L-1.1,-7.7H1.1L1.55,-4.4Z" transform="rotate(90)"/><path d="M-1.55,-4.4L-1.1,-7.7H1.1L1.55,-4.4Z" transform="rotate(135)"/><path d="M-1.55,-4.4L-1.1,-7.7H1.1L1.55,-4.4Z" transform="rotate(180)"/><path d="M-1.55,-4.4L-1.1,-7.7H1.1L1.55,-4.4Z" transform="rotate(225)"/><path d="M-1.55,-4.4L-1.1,-7.7H1.1L1.55,-4.4Z" transform="rotate(270)"/><path d="M-1.55,-4.4L-1.1,-7.7H1.1L1.55,-4.4Z" transform="rotate(315)"/><path fill-rule="evenodd" d="M0,-5.3A5.3,5.3 0 1 0 0,5.3A5.3,5.3 0 1 0 0,-5.3ZM0,-3.2A3.2,3.2 0 1 1 0,3.2A3.2,3.2 0 1 1 0,-3.2Z"/></g>
<path d="M540.6,630.8V626.4H545 M550.7,626.4H555.1V630.8 M555.1,633.4V637.8H550.7 M545,637.8H540.6V633.4" fill="none" stroke="#8595a8" stroke-width="2" stroke-linejoin="round" stroke-linecap="butt"/>
<rect x="295.7" y="363.3" width="13.2" height="13.2" rx="2.5" fill="none" stroke="#53606f" stroke-width="1"/>
<rect x="297.5" y="368.8" width="9.6" height="2" fill="#434f5c"/>
<path d="M318.1,364.13h13.1l-4,6.45l4,6.45h-13.1z" fill="#363c4a"/>
<rect x="577.06" y="349.8" width="282" height="299" rx="4" fill="#131722"/>
<g clip-path="url(#cp6)">
<rect x="577.06" y="361.65" width="233.4" height="1.2" fill="#2e3346"/>
<rect x="577.06" y="393.4" width="233.4" height="1.2" fill="#2e3346"/>
<rect x="577.06" y="425.1" width="233.4" height="1.2" fill="#2e3346"/>
<rect x="577.06" y="456.9" width="233.4" height="1.2" fill="#2e3346"/>
<rect x="577.06" y="488.9" width="233.4" height="1.2" fill="#2e3346"/>
<rect x="577.06" y="522.1" width="233.4" height="1.2" fill="#2e3346"/>
<rect x="577.06" y="553.9" width="233.4" height="1.2" fill="#2e3346"/>
<rect x="577.06" y="585.8" width="233.4" height="1.2" fill="#2e3346"/>
<rect x="601.9" y="349.8" width="1.2" height="242.75" fill="#2e3346"/>
<rect x="694.4" y="349.8" width="1.2" height="242.75" fill="#2e3346"/>
<rect x="788.9" y="349.8" width="1.2" height="242.75" fill="#2e3346"/>
<polyline points="577,391.75 587.5,408 597.5,428 607.5,453 615,474 620,487.5 623.75,495.5 628.75,503.5 638.5,511.25 647.5,514.5 657,522.5 665.75,528.75 675.5,536.25 681.25,533 685.25,530 694.25,526.25 703.75,522.5 712.5,520.5 722,517.5 731.25,511.25 735,502 740.75,495 747.5,478.5 753.75,472.25 759.5,469.5" fill="none" stroke="#00ffff" stroke-width="1.8" stroke-linejoin="round"/>
<polyline points="577,395.5 591.75,413 601.5,425.5 610.5,443 620,461.75 628.75,477 638.5,485.5 647.5,493.75 657,502 665.75,510 675.5,518.25 685.25,518.25 694.25,517.5 703.75,518 712.5,516.25 722,515 731.25,512.5 735,508 740.75,500 745,495 749.75,488.75 759.5,482.5" fill="none" stroke="#0000ff" stroke-width="3" stroke-linejoin="round"/>
<rect x="581.15" y="383.75" width="1.2" height="61.75" fill="#c4434f"/>
<rect x="578" y="383.75" width="7.5" height="31.25" fill="#eb4d5c"/>
<rect x="591.15" y="399.25" width="1.2" height="72.75" fill="#c4434f"/>
<rect x="588" y="399.25" width="7.5" height="56.25" fill="#eb4d5c"/>
<rect x="600.9" y="427.5" width="1.2" height="69.5" fill="#c4434f"/>
<rect x="597.75" y="427.5" width="7.5" height="51.9" fill="#eb4d5c"/>
<rect x="609.9" y="452.5" width="1.2" height="125" fill="#c4434f"/>
<rect x="606.75" y="452.5" width="7.5" height="69.5" fill="#eb4d5c"/>
<rect x="619.4" y="487.5" width="1.2" height="67" fill="#c4434f"/>
<rect x="616.25" y="487.5" width="7.5" height="47.5" fill="#eb4d5c"/>
<rect x="628.15" y="509" width="1.2" height="40.5" fill="#c4434f"/>
<rect x="625" y="510" width="7.5" height="26.25" fill="#eb4d5c"/>
<rect x="637.9" y="493.75" width="1.2" height="58.25" fill="#44a478"/>
<rect x="634.75" y="522.5" width="7.5" height="1.75" fill="#53b987"/>
<rect x="646.9" y="496.9" width="1.2" height="57.6" fill="#44a478"/>
<rect x="643.75" y="520.5" width="7.5" height="3.75" fill="#53b987"/>
<rect x="656.4" y="522.5" width="1.2" height="33.25" fill="#c4434f"/>
<rect x="653.25" y="522.5" width="7.5" height="13.75" fill="#eb4d5c"/>
<rect x="665.15" y="512.5" width="1.2" height="56.25" fill="#c4434f"/>
<rect x="662" y="528.75" width="7.5" height="15" fill="#eb4d5c"/>
<rect x="674.9" y="536.25" width="1.2" height="37" fill="#c4434f"/>
<rect x="671.75" y="536.25" width="7.5" height="15" fill="#eb4d5c"/>
<rect x="684.65" y="486.9" width="1.2" height="63.85" fill="#44a478"/>
<rect x="681.5" y="517.5" width="7.5" height="26.25" fill="#53b987"/>
<rect x="693.65" y="483" width="1.2" height="71.5" fill="#44a478"/>
<rect x="690.5" y="515" width="7.5" height="15.5" fill="#53b987"/>
<rect x="703.15" y="485" width="1.2" height="66.75" fill="#44a478"/>
<rect x="700" y="519.5" width="7.5" height="4.25" fill="#53b987"/>
<rect x="711.9" y="491.9" width="1.2" height="34.85" fill="#44a478"/>
<rect x="708.75" y="512" width="7.5" height="10" fill="#53b987"/>
<rect x="721.4" y="493.75" width="1.2" height="43" fill="#44a478"/>
<rect x="718.25" y="513.75" width="7.5" height="2.5" fill="#53b987"/>
<rect x="730.65" y="473" width="1.2" height="42.75" fill="#44a478"/>
<rect x="727.5" y="495" width="7.5" height="20.75" fill="#53b987"/>
<rect x="740.15" y="438" width="1.2" height="67.6" fill="#44a478"/>
<rect x="737" y="463.4" width="7.5" height="42.2" fill="#53b987"/>
<rect x="749.15" y="415" width="1.2" height="70" fill="#44a478"/>
<rect x="746" y="436" width="7.5" height="49" fill="#53b987"/>
<rect x="758.9" y="438" width="1.2" height="43.9" fill="#44a478"/>
<rect x="755.75" y="457.1" width="7.5" height="3.4" fill="#53b987"/>
<line x1="577.06" y1="457.5" x2="811.46" y2="457.5" stroke="#53b987" stroke-width="1.15" stroke-dasharray="2 1.03"/>
</g>
<rect x="810.86" y="349.8" width="1.2" height="243.35" fill="#7b7b7b"/>
<rect x="577.06" y="591.95" width="235" height="1.2" fill="#7b7b7b"/>
<g clip-path="url(#ap6)">
<rect x="812.26" y="362.5" width="3" height="1" fill="#aaa"/>
<text x="818.96" y="367.6" font-size="12.3" fill="#c9c9c9" stroke="#c9c9c9" stroke-width="0.25">84.000</text>
<rect x="812.26" y="394.25" width="3" height="1" fill="#aaa"/>
<text x="818.96" y="399.35" font-size="12.3" fill="#c9c9c9" stroke="#c9c9c9" stroke-width="0.25">83.500</text>
<rect x="812.26" y="425.75" width="3" height="1" fill="#aaa"/>
<text x="818.96" y="430.85" font-size="12.3" fill="#c9c9c9" stroke="#c9c9c9" stroke-width="0.25">83.000</text>
<rect x="812.26" y="457" width="3" height="1" fill="#aaa"/>
<text x="818.96" y="462.1" font-size="12.3" fill="#c9c9c9" stroke="#c9c9c9" stroke-width="0.25">82.500</text>
<rect x="812.26" y="489" width="3" height="1" fill="#aaa"/>
<text x="818.96" y="494.1" font-size="12.3" fill="#c9c9c9" stroke="#c9c9c9" stroke-width="0.25">82.000</text>
<rect x="812.26" y="523.25" width="3" height="1" fill="#aaa"/>
<text x="818.96" y="528.35" font-size="12.3" fill="#c9c9c9" stroke="#c9c9c9" stroke-width="0.25">81.500</text>
<rect x="812.26" y="554" width="3" height="1" fill="#aaa"/>
<text x="818.96" y="559.1" font-size="12.3" fill="#c9c9c9" stroke="#c9c9c9" stroke-width="0.25">81.000</text>
<rect x="812.26" y="587" width="3" height="1" fill="#aaa"/>
<text x="818.96" y="592.1" font-size="12.3" fill="#c9c9c9" stroke="#c9c9c9" stroke-width="0.25">80.500</text>
<rect x="810.56" y="449.25" width="48.5" height="17.5" fill="#53b987"/>
<rect x="812.26" y="457.5" width="3" height="1" fill="#fff"/>
<text x="818.96" y="462.3" font-size="12.3" fill="#fff" stroke="#fff" stroke-width="0.25">82.520</text>
<rect x="810.56" y="466.75" width="48.5" height="17.5" fill="#eb4d5c"/>
<rect x="812.26" y="475" width="3" height="1" fill="#fff"/>
<text x="818.96" y="479.8" font-size="12.3" fill="#fff" stroke="#fff" stroke-width="0.25">82.396</text>
<rect x="810.56" y="484.25" width="48.5" height="17" fill="#00ffff"/>
<rect x="812.26" y="492.25" width="3" height="1" fill="#000"/>
<text x="818.96" y="497.05" font-size="12.3" fill="#000" stroke="#000" stroke-width="0.25">82.330</text>
<rect x="810.56" y="501.25" width="48.5" height="17.5" fill="#0000ff"/>
<rect x="812.26" y="509.5" width="3" height="1" fill="#fff"/>
<text x="818.96" y="514.3" font-size="12.3" fill="#fff" stroke="#fff" stroke-width="0.25">82.119</text>
</g>
<g clip-path="url(#pp6)">
<rect x="602" y="593.15" width="1" height="3.5" fill="#aaa"/>
<text x="602.5" y="608.5" font-size="12" fill="#c9c9c9" text-anchor="middle" font-weight="bold">18</text>
<rect x="694" y="593.15" width="1" height="3.5" fill="#aaa"/>
<text x="694.5" y="608.5" font-size="12" fill="#c9c9c9" text-anchor="middle" font-weight="bold">Jul</text>
<rect x="788.75" y="593.15" width="1" height="3.5" fill="#aaa"/>
<text x="789.25" y="608.5" font-size="12" fill="#c9c9c9" text-anchor="middle">16</text>
</g>
<rect x="577.06" y="613.15" width="282" height="1" fill="#363a4a"/>
<text x="589.76" y="636.5" font-size="13.3" fill="#8696b2">Date Range</text>
<polyline points="669.06,630.1 673.06,633.8 677.06,630.1" fill="none" stroke="#8696b2" stroke-width="1.2"/>
<g transform="translate(800.26,632)" fill="#8595a8"><path d="M-1.55,-4.4L-1.1,-7.7H1.1L1.55,-4.4Z" transform="rotate(0)"/><path d="M-1.55,-4.4L-1.1,-7.7H1.1L1.55,-4.4Z" transform="rotate(45)"/><path d="M-1.55,-4.4L-1.1,-7.7H1.1L1.55,-4.4Z" transform="rotate(90)"/><path d="M-1.55,-4.4L-1.1,-7.7H1.1L1.55,-4.4Z" transform="rotate(135)"/><path d="M-1.55,-4.4L-1.1,-7.7H1.1L1.55,-4.4Z" transform="rotate(180)"/><path d="M-1.55,-4.4L-1.1,-7.7H1.1L1.55,-4.4Z" transform="rotate(225)"/><path d="M-1.55,-4.4L-1.1,-7.7H1.1L1.55,-4.4Z" transform="rotate(270)"/><path d="M-1.55,-4.4L-1.1,-7.7H1.1L1.55,-4.4Z" transform="rotate(315)"/><path fill-rule="evenodd" d="M0,-5.3A5.3,5.3 0 1 0 0,5.3A5.3,5.3 0 1 0 0,-5.3ZM0,-3.2A3.2,3.2 0 1 1 0,3.2A3.2,3.2 0 1 1 0,-3.2Z"/></g>
<path d="M828.46,630.8V626.4H832.86 M838.56,626.4H842.96V630.8 M842.96,633.4V637.8H838.56 M832.86,637.8H828.46V633.4" fill="none" stroke="#8595a8" stroke-width="2" stroke-linejoin="round" stroke-linecap="butt"/>
<rect x="582.56" y="363.3" width="13.2" height="13.2" rx="2.5" fill="none" stroke="#53606f" stroke-width="1"/>
<rect x="584.36" y="368.8" width="9.6" height="2" fill="#434f5c"/>
<path d="M604.96,364.13h13.1l-4,6.45l4,6.45h-13.1z" fill="#363c4a"/>
<rect x="-3" y="588" width="4.5" height="25" rx="2" fill="#131722"/>
<rect x="860.5" y="598.5" width="5" height="22" rx="2" fill="#131722"/>
<path d="M3,0H111.7V36a4,4 0 0 1 -4,4H7a4,4 0 0 1 -4,-4Z" fill="#131722"/>
<path d="M113,0H154V36a4,4 0 0 1 -4,4H117a4,4 0 0 1 -4,-4Z" fill="#131722"/>
<path d="M156,0H248.4V36a4,4 0 0 1 -4,4H160a4,4 0 0 1 -4,-4Z" fill="#131722"/>
<path d="M250.3,0H292V36a4,4 0 0 1 -4,4H254.3a4,4 0 0 1 -4,-4Z" fill="#131722"/>
<path d="M293,0H376.9V36a4,4 0 0 1 -4,4H297a4,4 0 0 1 -4,-4Z" fill="#131722"/>
<path d="M378.5,0H773.8V36a4,4 0 0 1 -4,4H382.5a4,4 0 0 1 -4,-4Z" fill="#131722"/>
<path d="M774.9,0H816.9V36a4,4 0 0 1 -4,4H778.9a4,4 0 0 1 -4,-4Z" fill="#131722"/>
<path d="M818.3,0H859V36a4,4 0 0 1 -4,4H822.3a4,4 0 0 1 -4,-4Z" fill="#131722"/>
<text x="14.3" y="25.4" font-size="14.3" font-weight="bold" fill="#d9dbe2" letter-spacing="0.45">AUDJPY</text>
<text x="126.6" y="25.4" font-size="15.5" fill="#8595ad">1h</text>
<g fill="none" stroke="#8b96a6" stroke-width="1"><path d="M172.6,8.7V12M172.6,26.9V30.6M181.5,12V15.8M181.5,23.7V27.3"/><rect x="170.3" y="12" width="4.6" height="14.9"/><rect x="178.9" y="15.8" width="5" height="7.9" fill="#8b96a6" fill-opacity="0.3"/></g>
<g fill="none" stroke="#2e9fe3" stroke-width="1.2"><path d="M205.1,8.7V12M214.1,6.9V10.2"/><rect x="202.7" y="12" width="4.8" height="14.5"/><rect x="211.7" y="10.2" width="4.8" height="8" fill="#2e9fe3" fill-opacity="0.25"/></g>
<polyline points="234.3,18 238.5,21.5 242.7,18" fill="none" stroke="#8b96a6" stroke-width="1.2"/>
<g fill="none" stroke="#8b96a6" stroke-width="1.1"><ellipse cx="270.5" cy="11.5" rx="1.2" ry="2.2"/><path d="M270.5,13.7V17"/><circle cx="270.5" cy="19.3" r="2.3"/><path d="M268.2,19.3H262.1M272.8,19.3H279.3"/><path d="M258.2,24.7H265.9M258.4,24.7L262.1,19.3L265.7,24.7M258.2,24.7A3.85,5 0 0 0 265.9,24.7"/><path d="M275.5,24.7H283.2M275.7,24.7L279.3,19.3L283,24.7M275.5,24.7A3.85,5 0 0 0 283.2,24.7"/></g>
<path d="M304,24C306.5,21.5 308.5,18.3 310.6,17.8C313,17.3 315,22.2 317.4,22.3C319.5,22.4 322,19 324.6,16.5" fill="none" stroke="#8b96a6" stroke-width="1.2"/>
<rect x="334.5" y="8.3" width="1" height="23.2" fill="#363a4a"/>
<g fill="none" stroke="#8b96a6" stroke-width="1.1"><path d="M346.5,17C349,15 351,11.3 353.2,11.3C355.6,11.3 357.5,16.3 360.3,16.4C362.6,16.4 365,12.6 367,10.4"/><path d="M346.5,22.4C349,20.4 351,16.7 353.2,16.7C355.6,16.7 357.5,21.7 360.3,21.8C362.6,21.8 365,18 367,15.8"/><path d="M347.5,28.6V26.8M350.7,28.6V24.3M353.9,28.6V22.6M357.1,28.6V24.8M360.3,28.6V26.2M363.5,28.6V24.2M366.7,28.6V20.8" stroke-width="1.2"/></g>
<g fill="none" stroke="#8b96a6" stroke-width="1.1"><path d="M408.7,21A9.3,9.3 0 1 0 399.4,29.6"/><path d="M399.4,14.2V20.3H394.8"/><path d="M389.2,13.2L394.2,9.4M409.6,13.2L404.6,9.4"/><path d="M406,22.6V31.2M401.6,26.9H410.4" stroke-width="1.3"/></g>
<path d="M794.02,11.59 L794.47,9.18 L797.13,9.18 L797.58,11.59 L800.27,12.71 L802.3,11.32 L804.18,13.2 L802.79,15.23 L803.91,17.92 L806.32,18.37 L806.32,21.03 L803.91,21.48 L802.79,24.17 L804.18,26.2 L802.3,28.08 L800.27,26.69 L797.58,27.81 L797.13,30.22 L794.47,30.22 L794.02,27.81 L791.33,26.69 L789.3,28.08 L787.42,26.2 L788.81,24.17 L787.69,21.48 L785.28,21.03 L785.28,18.37 L787.69,17.92 L788.81,15.23 L787.42,13.2 L789.3,11.32 L791.33,12.71Z" fill="none" stroke="#8b96a6" stroke-width="1.1" stroke-linejoin="round"/>
<circle cx="795.8" cy="19.7" r="3.1" fill="none" stroke="#8b96a6" stroke-width="1.1"/>
<g fill="none" stroke="#8b96a6" stroke-width="1.1"><path d="M836.2,17.4L830.6,11.8M830.6,16.2V11.8H835"/><path d="M841.4,17.4L847,11.8M842.6,11.8H847V16.2"/><path d="M836.2,22.6L830.6,28.2M830.6,23.8V28.2H835"/><path d="M841.4,22.6L847,28.2M842.6,28.2H847V23.8"/></g>
<defs><linearGradient id="sh" x1="0" y1="0" x2="0" y2="1"><stop offset="0" stop-color="#000" stop-opacity="0.55"/><stop offset="1" stop-color="#000" stop-opacity="0"/></linearGradient><linearGradient id="shr" x1="0" y1="0" x2="1" y2="0"><stop offset="0" stop-color="#000" stop-opacity="0.4"/><stop offset="1" stop-color="#000" stop-opacity="0"/></linearGradient></defs>
<rect x="416" y="44" width="355" height="5" fill="url(#sh)"/>
<rect x="769" y="0" width="3.5" height="46" fill="url(#shr)"/>
<rect x="415" y="0" width="3.2" height="46" fill="url(#shr)" transform="rotate(180 416.6 23)"/>
<rect x="418.2" y="0" width="350.8" height="44.2" fill="#1d2134"/>
<rect x="435.4" y="0" width="109.1" height="44.2" fill="#2d2033"/>
<rect x="544.5" y="0" width="45.8" height="44.2" fill="#1e2234"/>
<rect x="590.3" y="0" width="109.4" height="44.2" fill="#1c2b3e"/>
<rect x="589.8" y="0" width="0.9" height="44.2" fill="#3d465e"/>
<rect x="543.9" y="0" width="0.9" height="44.2" fill="#3a3e55"/>
<rect x="434.9" y="0" width="0.9" height="44.2" fill="#3a3e55"/>
<rect x="699.7" y="0" width="47.7" height="44.2" fill="#131722"/>
<rect x="699.3" y="0" width="0.8" height="44.2" fill="#2a3044"/>
<rect x="746.9" y="0" width="22.1" height="44.2" fill="#343a50"/>
<rect x="747.9" y="1" width="20.1" height="20.8" fill="#1e2235"/>
<rect x="747.9" y="22.8" width="20.1" height="20.6" fill="#1e2235"/>
<rect x="424" y="15.4" width="2.2" height="2.2" fill="#e8e8ee"/>
<rect x="428.2" y="15.4" width="2.2" height="2.2" fill="#e8e8ee"/>
<rect x="424" y="20.6" width="2.2" height="2.2" fill="#e8e8ee"/>
<rect x="428.2" y="20.6" width="2.2" height="2.2" fill="#e8e8ee"/>
<rect x="424" y="26" width="2.2" height="2.2" fill="#e8e8ee"/>
<rect x="428.2" y="26" width="2.2" height="2.2" fill="#e8e8ee"/>
<path d="M418.6,0V43.8H768.6" fill="none" stroke="#3a4058" stroke-width="0.9"/>
<text x="443.7" y="17" font-size="13.5" fill="#ff4062" textLength="27.2" lengthAdjust="spacingAndGlyphs" stroke="#ff4062" stroke-width="0.3">SELL</text>
<text x="443.7" y="34.8" font-size="14" fill="#d6d8e0" letter-spacing="0.4">82.38</text>
<text x="481.7" y="29.2" font-size="11" fill="#ff4a68">7</text>
<text x="557.6" y="26.5" font-size="14" fill="#8d929e" letter-spacing="0.4">1.5</text>
<text x="599.3" y="17" font-size="13.5" fill="#2ea7ec" textLength="25.2" lengthAdjust="spacingAndGlyphs" stroke="#2ea7ec" stroke-width="0.3">BUY</text>
<text x="599.3" y="34.8" font-size="14" fill="#d6d8e0" letter-spacing="0.4">82.40</text>
<text x="637.6" y="29.2" font-size="11" fill="#ff4a68">2</text>
<text x="704" y="27" font-size="14.2" fill="#e4e6ec">42959</text>
<path d="M753,11.5H762M757.5,7V16M753,33.3H762" stroke="#e0e2ea" stroke-width="1.3" fill="none"/>
</svg>
</body></html>
